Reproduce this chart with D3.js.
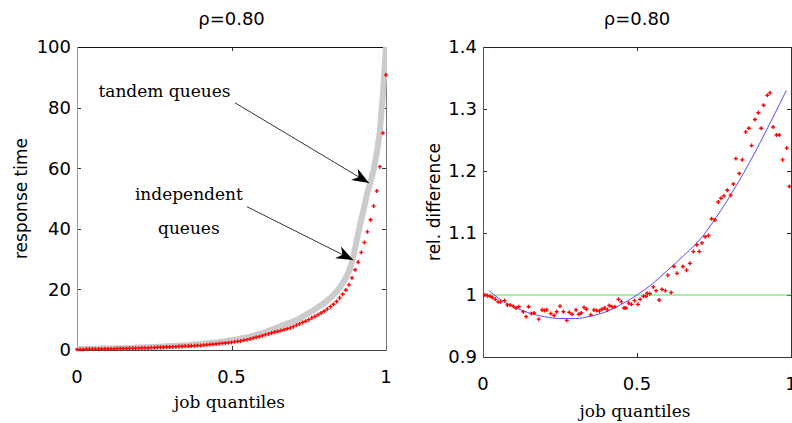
<!DOCTYPE html>
<html>
<head>
<meta charset="utf-8">
<script src="https://cdn.jsdelivr.net/npm/d3@7"></script>
<style>
  body { margin: 0; background: #fff; }
  text { fill: #000; }
</style>
</head>
<body>
<div id="chart"></div>
<script>
const width = 792;
const height = 423;

// left panel: response time quantiles
const quantiles = d3.range(0, 101).map(i => i / 100);
const independent = [
  0.2, 0.2, 0.2, 0.3, 0.3, 0.3, 0.3, 0.3, 0.4, 0.4,
  0.4, 0.4, 0.4, 0.5, 0.5, 0.5, 0.5, 0.6, 0.6, 0.6,
  0.6, 0.7, 0.7, 0.7, 0.8, 0.8, 0.9, 0.9, 0.9, 1.0,
  1.0, 1.1, 1.1, 1.2, 1.2, 1.3, 1.3, 1.4, 1.4, 1.5,
  1.5, 1.6, 1.7, 1.8, 1.9, 2.0, 2.1, 2.2, 2.3, 2.4,
  2.5, 2.7, 2.8, 3.0, 3.2, 3.4, 3.6, 3.9, 4.2, 4.4,
  4.7, 5.0, 5.3, 5.6, 5.9, 6.1, 6.4, 6.7, 7.0, 7.3,
  7.7, 8.2, 8.6, 9.1, 9.5, 10.0, 10.6, 11.1, 11.6, 12.2,
  12.8, 13.5, 14.3, 15.1, 16.0, 17.2, 18.4, 19.8, 21.5, 23.8,
  26.5, 29.0, 32.2, 35.5, 39.0, 43.0, 47.5, 52.5, 60.5, 71.6,
  90.8
];
const tandem = [
  0.3, 0.3, 0.3, 0.4, 0.4, 0.4, 0.4, 0.4, 0.5, 0.5,
  0.5, 0.5, 0.5, 0.6, 0.6, 0.6, 0.7, 0.7, 0.7, 0.8,
  0.8, 0.8, 0.9, 0.9, 1.0, 1.0, 1.1, 1.1, 1.2, 1.2,
  1.3, 1.3, 1.4, 1.4, 1.5, 1.5, 1.6, 1.7, 1.8, 1.9,
  2.0, 2.1, 2.2, 2.3, 2.4, 2.5, 2.6, 2.8, 2.9, 3.1,
  3.2, 3.4, 3.6, 3.8, 4.0, 4.2, 4.4, 4.7, 5.0, 5.3,
  5.6, 5.9, 6.3, 6.7, 7.1, 7.5, 7.9, 8.3, 8.7, 9.1,
  9.5, 9.9, 10.4, 11.0, 11.6, 12.2, 12.8, 13.4, 14.1, 14.8,
  15.5, 16.3, 17.2, 18.2, 19.3, 20.6, 22.1, 23.8, 26.0, 29.0,
  33.5, 38.5, 43.0, 47.5, 52.0, 55.5, 59.5, 64.9, 72.0, 84.5,
  100
];

// right panel: relative difference
const relQ = [
  0.006, 0.014, 0.023, 0.031, 0.040, 0.049, 0.057, 0.070, 0.079, 0.088,
  0.098, 0.107, 0.116, 0.131, 0.140, 0.148, 0.157, 0.166, 0.181, 0.192,
  0.200, 0.207, 0.220, 0.231, 0.239, 0.250, 0.261, 0.272, 0.280, 0.289,
  0.302, 0.311, 0.319, 0.328, 0.336, 0.350, 0.360, 0.369, 0.378, 0.386,
  0.395, 0.404, 0.410, 0.419, 0.428, 0.440, 0.449, 0.458, 0.464, 0.473,
  0.482, 0.492, 0.503, 0.510, 0.521, 0.529, 0.533, 0.542, 0.553, 0.562,
  0.572, 0.581, 0.592, 0.611,
  0.600, 0.620, 0.630, 0.649, 0.661, 0.672, 0.683, 0.694, 0.702, 0.711,
  0.721, 0.732, 0.742, 0.753, 0.764, 0.773, 0.782, 0.793, 0.804, 0.813,
  0.821, 0.832, 0.842, 0.853, 0.863, 0.872, 0.883, 0.894, 0.903, 0.911,
  0.923, 0.932, 0.942, 0.953, 0.962, 0.973, 0.986, 0.995
];
const relDiff = [
  1.000, 0.999, 0.998, 0.996, 0.993, 0.989, 0.989, 0.991, 0.984, 0.984,
  0.982, 0.979, 0.981, 0.973, 0.965, 0.981, 0.970, 0.971, 0.961, 0.976,
  0.975, 0.976, 0.970, 0.967, 0.973, 0.982, 0.973, 0.959, 0.972, 0.969,
  0.976, 0.969, 0.971, 0.980, 0.977, 0.968, 0.976, 0.975, 0.974, 0.977,
  0.979, 0.976, 0.983, 0.981, 0.981, 0.993, 0.989, 0.979, 0.979, 0.987,
  0.985, 0.991, 0.985, 0.993, 0.998, 0.998, 1.003, 1.002, 1.013, 1.007,
  0.992, 1.009, 1.007, 1.004,
  1.032, 1.046, 1.035, 1.046, 1.040, 1.051, 1.070, 1.081, 1.070, 1.084,
  1.094, 1.096, 1.123, 1.121, 1.150, 1.156, 1.160, 1.169, 1.161, 1.179,
  1.220, 1.196, 1.218, 1.263, 1.269, 1.241, 1.283, 1.294, 1.269, 1.306,
  1.322, 1.326, 1.271, 1.258, 1.258, 1.218, 1.237, 1.175
];
const fitQ = [0.02, 0.05, 0.10, 0.15, 0.20, 0.25, 0.30, 0.35, 0.40, 0.45, 0.50,
  0.55, 0.60, 0.65, 0.70, 0.75, 0.80, 0.85, 0.90, 0.95, 0.985];
const fitDiff = [1.007, 0.995, 0.981, 0.971, 0.965, 0.962, 0.962, 0.966, 0.973, 0.985, 1.000,
  1.018, 1.040, 1.063, 1.087, 1.120, 1.158, 1.200, 1.246, 1.295, 1.330];
const baseline = 1;

const xTicks = [0, 0.5, 1];
const leftYTicks = [0, 20, 40, 60, 80, 100];
const rightYTicks = [0.9, 1, 1.1, 1.2, 1.3, 1.4];
const titleText = 'ρ=0.80';
const xLabel = 'job quantiles';

// annotations in data units: [text q, text v, tail q, tail v, tip q, tip v]
const tandemNote = { lines: ['tandem queues'], q: 0.283, v: 83.5, tail: [0.511, 81.6], tip: [0.945, 55.1] };
const indepNote = { lines: ['independent', 'queues'], q: 0.362, v: 49.5, tail: [0.550, 47.3], tip: [0.894, 29.7] };

const svg = d3.select('#chart').append('svg')
  .attr('width', width)
  .attr('height', height)
  .style('background', '#fff');

const sans = 'DejaVu Sans, sans-serif';
const serif = 'DejaVu Serif, serif';

function frame(g, p, colors) {
  const [top, right, bottom, left] = colors;
  g.append('line').attr('x1', p.x0).attr('x2', p.x1).attr('y1', p.y0 + 0.5).attr('y2', p.y0 + 0.5).attr('stroke', top);
  g.append('line').attr('x1', p.x0).attr('x2', p.x1).attr('y1', p.y1 + 0.5).attr('y2', p.y1 + 0.5).attr('stroke', bottom);
  g.append('line').attr('x1', p.x0 + 0.5).attr('x2', p.x0 + 0.5).attr('y1', p.y0).attr('y2', p.y1 + 1).attr('stroke', left);
  g.append('line').attr('x1', p.x1 + 0.5).attr('x2', p.x1 + 0.5).attr('y1', p.y0).attr('y2', p.y1 + 1).attr('stroke', right);
}

function panel(p, yTicks, yDomain, yLabel, colors) {
  const x = d3.scaleLinear().domain([0, 1]).range([p.x0, p.x1]);
  const y = d3.scaleLinear().domain(yDomain).range([p.y1, p.y0]);
  const g = svg.append('g');

  // ticks, inward on all four sides
  const tl = 4;
  const ticks = g.append('g').attr('stroke', '#333');
  xTicks.forEach(t => {
    const xx = Math.round(x(t)) + 0.5;
    ticks.append('line').attr('x1', xx).attr('x2', xx).attr('y1', p.y1).attr('y2', p.y1 - tl);
    ticks.append('line').attr('x1', xx).attr('x2', xx).attr('y1', p.y0).attr('y2', p.y0 + tl);
  });
  yTicks.forEach(t => {
    const yy = Math.round(y(t)) + 0.5;
    ticks.append('line').attr('x1', p.x0).attr('x2', p.x0 + tl).attr('y1', yy).attr('y2', yy);
    ticks.append('line').attr('x1', p.x1).attr('x2', p.x1 - tl).attr('y1', yy).attr('y2', yy);
  });

  frame(g, p, colors);

  g.append('g').selectAll('text').data(xTicks).join('text')
    .attr('x', d => x(d)).attr('y', p.y1 + 33)
    .attr('text-anchor', 'middle')
    .attr('font-family', sans).attr('font-size', 18)
    .text(d => d);

  g.append('g').selectAll('text').data(yTicks).join('text')
    .attr('x', p.x0 - 6).attr('y', d => y(d))
    .attr('dy', '0.36em')
    .attr('text-anchor', 'end')
    .attr('font-family', sans).attr('font-size', 18)
    .text(d => d);

  g.append('text')
    .attr('x', (p.x0 + p.x1) / 2).attr('y', 25)
    .attr('text-anchor', 'middle')
    .attr('font-family', sans).attr('font-size', 18)
    .text(titleText);

  g.append('text')
    .attr('x', (p.x0 + p.x1) / 2 - 2).attr('y', p.y1 + p.xlabOff)
    .attr('text-anchor', 'middle')
    .attr('font-family', serif).attr('font-size', 17)
    .text(xLabel);

  g.append('text')
    .attr('transform', `translate(${p.ylabX},${(p.y0 + p.y1) / 2}) rotate(-90)`)
    .attr('text-anchor', 'middle')
    .attr('font-family', sans).attr('font-size', 17)
    .text(yLabel);

  return { x, y, g };
}

const cross = d3.symbol(d3.symbolCross).size(9);

// ---------- left ----------
const L = { x0: 77, x1: 386, y0: 47, y1: 350, xlabOff: 58, ylabX: 27 };
const left = panel(L, leftYTicks, [0, 100], 'response time', ['#111', '#777', '#444', '#999']);

svg.append('clipPath').attr('id', 'clipL').append('rect')
  .attr('x', L.x0).attr('y', L.y0).attr('width', L.x1 - L.x0 + 1).attr('height', L.y1 - L.y0);

svg.append('path')
  .attr('clip-path', 'url(#clipL)')
  .attr('fill', 'none')
  .attr('stroke', '#cbcbcb')
  .attr('stroke-width', 6)
  .attr('stroke-linejoin', 'round')
  .attr('d', d3.line().x((d, i) => left.x(quantiles[i])).y(d => left.y(d))(tandem));

svg.append('g').selectAll('path').data(independent).join('path')
  .attr('transform', (d, i) => `translate(${left.x(quantiles[i])},${left.y(d)})`)
  .attr('fill', '#ff0000')
  .attr('d', cross);

function arrow(note, sc) {
  const [tx, ty] = [sc.x(note.tail[0]), sc.y(note.tail[1])];
  const [hx, hy] = [sc.x(note.tip[0]), sc.y(note.tip[1])];
  const ang = Math.atan2(hy - ty, hx - tx) * 180 / Math.PI;
  svg.append('line')
    .attr('x1', tx).attr('y1', ty).attr('x2', hx).attr('y2', hy)
    .attr('stroke', '#000').attr('stroke-width', 0.8);
  svg.append('path')
    .attr('transform', `translate(${hx},${hy}) rotate(${ang})`)
    .attr('fill', '#000')
    .attr('d', 'M0,0 L-17,-6.5 L-12,0 L-17,6.5 Z');
  note.lines.forEach((t, i) => {
    svg.append('text')
      .attr('x', sc.x(note.q)).attr('y', sc.y(note.v) + i * 34)
      .attr('text-anchor', 'middle')
      .attr('font-family', serif).attr('font-size', 17)
      .text(t);
  });
}
arrow(tandemNote, left);
arrow(indepNote, left);

// ---------- right ----------
const R = { x0: 483, x1: 791, y0: 47, y1: 357, xlabOff: 60, ylabX: 440 };
const right = panel(R, rightYTicks, [0.9, 1.4], 'rel. difference', ['#222', '#333', '#333', '#555']);

svg.append('line')
  .attr('x1', right.x(0)).attr('x2', right.x(1))
  .attr('y1', right.y(baseline)).attr('y2', right.y(baseline))
  .attr('stroke', '#55e055').attr('stroke-width', 1);

svg.append('path')
  .attr('fill', 'none')
  .attr('stroke', '#4f4fff')
  .attr('stroke-width', 1)
  .attr('d', d3.line().curve(d3.curveMonotoneX).x((d, i) => right.x(fitQ[i])).y(d => right.y(d))(fitDiff));

svg.append('g').selectAll('path').data(relDiff).join('path')
  .attr('transform', (d, i) => `translate(${right.x(relQ[i])},${right.y(d)})`)
  .attr('fill', '#ff0000')
  .attr('d', cross);
</script>
</body>
</html>
